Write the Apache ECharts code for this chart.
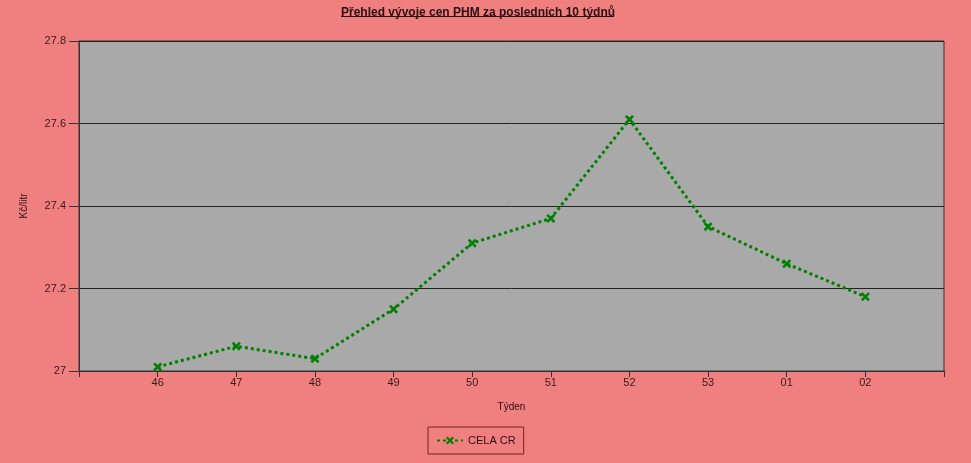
<!DOCTYPE html>
<html>
<head>
<meta charset="utf-8">
<script src="https://cdn.jsdelivr.net/npm/echarts@6/dist/echarts.min.js"></script>
<style>html,body{margin:0;padding:0;background:#F08080;}#c{width:971px;height:463px;}</style>
</head>
<body>
<div id="c"></div>
<script>
const weeks = ['', '46', '47', '48', '49', '50', '51', '52', '53', '01', '02', ''];
const celaCR = [null, 27.01, 27.06, 27.03, 27.15, 27.31, 27.37, 27.61, 27.35, 27.26, 27.18, null];
const yMin = 27, yMax = 27.8, yStep = 0.2;

const chart = echarts.init(document.getElementById('c'));
const xMark = 'path://M2,0 L5,3 L8,0 L10,2 L7,5 L10,8 L8,10 L5,7 L2,10 L0,8 L3,5 L0,2 Z';
chart.setOption({
  backgroundColor: '#F08080',
  animation: false,
  title: {
    text: 'Přehled vývoje cen PHM za posledních 10 týdnů',
    left: 473, top: 2, textAlign: 'center',
    textStyle: {fontFamily: 'Liberation Sans', fontSize: 12, fontWeight: 'bold', color: '#2a1010'}
  },
  graphic: [{
    type: 'line', shape: {x1: 341, y1: 16.5, x2: 614, y2: 16.5},
    style: {stroke: '#2a1010', lineWidth: 1}
  }],
  grid: {
    left: 79, right: 27, top: 41, bottom: 92,
    show: true, backgroundColor: '#A9A9A9', borderColor: '#333', borderWidth: 1
  },
  legend: {
    left: 428, top: 427, padding: [8, 8, 8, 8],
    borderColor: '#7a2020', borderWidth: 1,
    itemWidth: 26, itemHeight: 10, itemGap: 5,
    textStyle: {fontFamily: 'Liberation Sans', fontSize: 11, color: '#2a1010'},
    data: ['CELA CR']
  },
  xAxis: {
    type: 'category', data: weeks, boundaryGap: false,
    name: 'Týden', nameLocation: 'middle', nameGap: 31,
    nameTextStyle: {fontFamily: 'Liberation Sans', fontSize: 10, color: '#2a1010'},
    axisLine: {lineStyle: {color: '#333'}},
    axisTick: {length: 6, lineStyle: {color: '#333'}, interval: 0},
    axisLabel: {interval: 0, margin: 6, fontFamily: 'Liberation Sans', fontSize: 11, color: '#3a1818'},
    splitLine: {show: false}
  },
  yAxis: {
    type: 'value', min: yMin, max: yMax, interval: yStep,
    name: 'Kč/litr', nameLocation: 'middle', nameGap: 50,
    nameTextStyle: {fontFamily: 'Liberation Sans', fontSize: 10, color: '#2a1010'},
    axisLine: {show: true, lineStyle: {color: '#333'}},
    axisTick: {show: true, length: 10, lineStyle: {color: '#333'}},
    axisLabel: {margin: 13, fontFamily: 'Liberation Sans', fontSize: 11, color: '#3a1818',
      formatter: v => String(Math.round(v * 10) / 10)},
    splitLine: {show: true, lineStyle: {color: '#222', width: 1}}
  },
  series: [{
    name: 'CELA CR', type: 'line', data: celaCR,
    symbol: xMark, symbolSize: 9,
    itemStyle: {color: '#008000'},
    lineStyle: {color: '#008000', width: 3, type: [3, 3]},
    connectNulls: false
  }]
});
</script>
</body>
</html>
